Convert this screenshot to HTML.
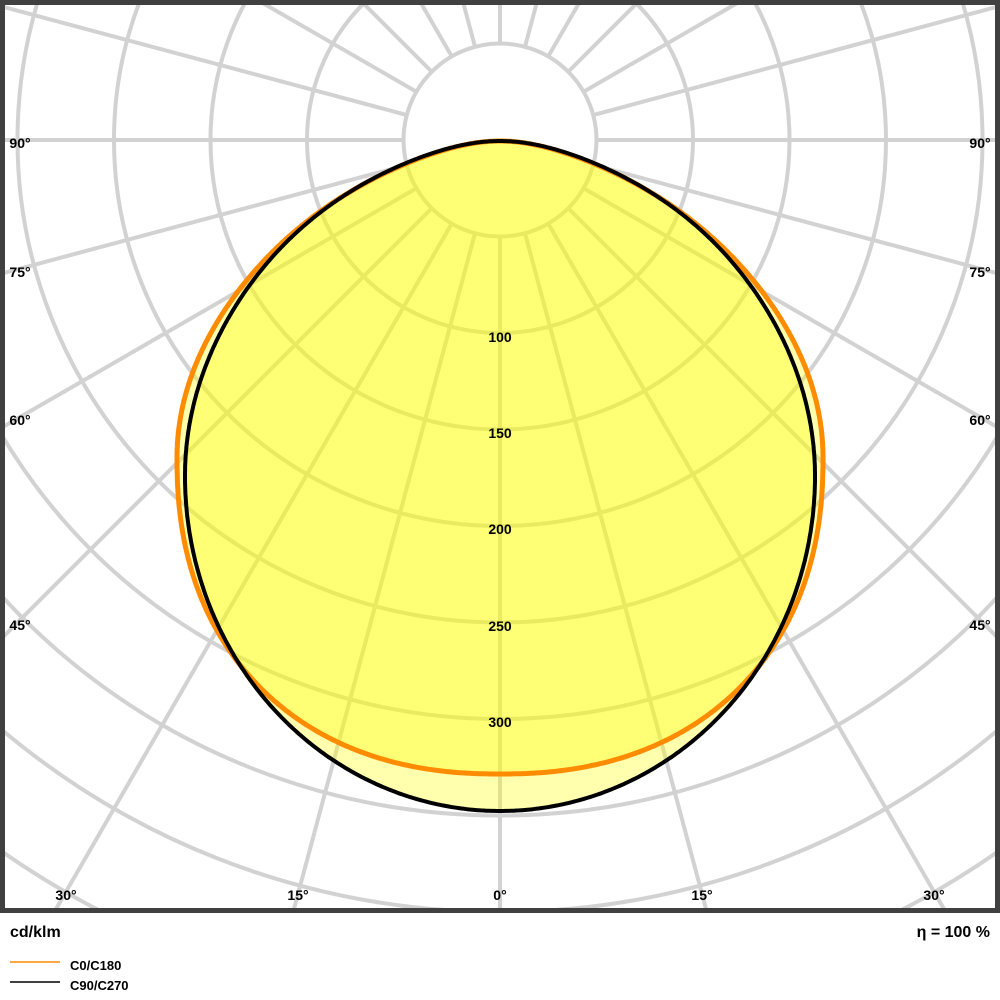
<!DOCTYPE html>
<html><head><meta charset="utf-8"><style>
html,body{margin:0;padding:0;background:#fff;width:1000px;height:1000px;overflow:hidden;}
svg{display:block;font-family:"Liberation Sans",Arial,sans-serif;font-weight:bold;}
</style></head><body>
<svg id="s" width="1000" height="1000" viewBox="0 0 1000 1000" xmlns="http://www.w3.org/2000/svg">
<defs><clipPath id="c"><rect x="4" y="4" width="992" height="906"/></clipPath></defs>
<g id="grid" clip-path="url(#c)" stroke="#d2d2d2" stroke-width="4" fill="none"></g>
<g clip-path="url(#c)">
<path id="fo" fill="rgba(255,255,0,0.32)" stroke="none"/>
<path id="fb" fill="rgba(255,255,0,0.32)" stroke="none"/>
<path id="po" fill="none" stroke="#ff8c00" stroke-width="5" stroke-linejoin="round"/>
<path id="pb" fill="none" stroke="#000" stroke-width="4" stroke-linejoin="round"/>
</g>
<rect x="2.5" y="2.5" width="995" height="908" fill="none" stroke="#404040" stroke-width="5"/>
<g font-size="14" fill="#000" text-anchor="middle">
<text x="500" y="342">100</text><text x="500" y="438">150</text><text x="500" y="534">200</text>
<text x="500" y="631">250</text><text x="500" y="727">300</text>
<text x="20" y="148">90°</text><text x="980" y="148">90°</text>
<text x="20" y="277">75°</text><text x="980" y="277">75°</text>
<text x="20" y="425">60°</text><text x="980" y="425">60°</text>
<text x="20" y="630">45°</text><text x="980" y="630">45°</text>
<text x="66" y="900">30°</text><text x="934" y="900">30°</text>
<text x="298" y="900">15°</text><text x="702" y="900">15°</text>
<text x="500" y="900">0°</text>
</g>
<text x="10" y="937" font-size="16">cd/klm</text>
<text x="990" y="937" font-size="16" text-anchor="end">η = 100 %</text>
<line x1="10" y1="962" x2="60" y2="962" stroke="#ff8c00" stroke-width="1.5"/>
<line x1="10" y1="982" x2="60" y2="982" stroke="#000" stroke-width="1.5"/>
<text x="70" y="970" font-size="13">C0/C180</text>
<text x="70" y="990" font-size="13">C90/C270</text>
</svg>
<script>
var cx=500,cy=140,ns="http://www.w3.org/2000/svg",g=document.getElementById('grid');
function el(t,a){var e=document.createElementNS(ns,t);for(var k in a)e.setAttribute(k,a[k]);g.appendChild(e);}
for(var k=1;k<=12;k++)el('circle',{cx:cx,cy:cy,r:96.5*k});
for(var a=0;a<360;a+=15){var t=a*Math.PI/180;
el('line',{x1:cx+96.5*Math.sin(t),y1:cy+96.5*Math.cos(t),x2:cx+1500*Math.sin(t),y2:cy+1500*Math.cos(t)});}
function shape(yc,a,b,pb,k2,k10){
 var pts=[];
 for(var i=0;i<=720;i++){
  var t=-Math.PI/2+Math.PI*2*i/720;
  var s=Math.sin(t),c=Math.cos(t);
  var u,xr;
  if(s>=0){var p=pb;u=Math.pow(s,2/p);xr=Math.pow(Math.abs(c),2/p);}
  else{u=s;xr=Math.abs(c);}
  var x=a*xr;
  if(u<0)x*=(1-k2*u*u-k10*Math.pow(u,10));
  x*= (c>=0?1:-1);
  pts.push((500+x).toFixed(1)+','+(yc+u*b).toFixed(1));
 }
 return 'M'+pts.join('L')+'Z';}
var pb=shape(476,315,335,2,0.1,0.15);
var po=shape(457.5,323,316.5,2.25,0.17,0.15);
['fb','pb'].forEach(function(i){document.getElementById(i).setAttribute('d',pb);});
['fo','po'].forEach(function(i){document.getElementById(i).setAttribute('d',po);});
</script>
</body></html>
